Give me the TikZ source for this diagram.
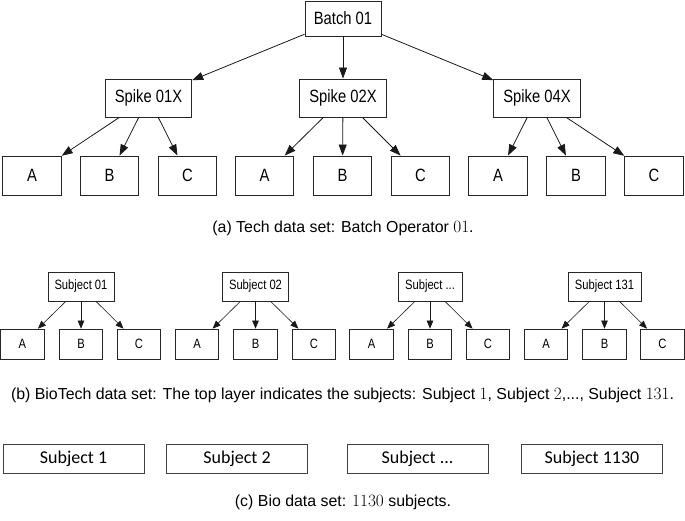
\documentclass[tikz,border=0pt]{standalone}
\usepackage[no-math]{fontspec}
\setmainfont{Liberation Sans}
\newfontfamily\nodefont[FakeStretch=0.83]{Liberation Sans}
\newfontfamily\carlitofont{Carlito}
\usetikzlibrary{arrows.meta}

\begin{document}
\begin{tikzpicture}[x=1pt,y=-1pt,
  treebox/.style={draw=black!85,line width=0.9pt,inner sep=0pt,font=\nodefont\fontsize{17.8}{20}\selectfont},
  smallbox/.style={draw=black!85,line width=0.7pt,inner sep=0pt,font=\nodefont\fontsize{13.5}{16}\selectfont},
  flatbox/.style={draw=black!75,line width=0.9pt,inner sep=0pt,minimum width=141pt,minimum height=29pt,font=\carlitofont\fontsize{18}{21}\selectfont},
  treeedge/.style={-{Triangle[length=11pt,width=8pt]},line width=0.8pt,draw=black!90},
  smalledge/.style={-{Triangle[length=8pt,width=6.5pt]},line width=0.6pt,draw=black!90},
  caption/.style={inner sep=0pt,font=\fontsize{15.9}{18}\selectfont}]
\useasboundingbox (0,0) rectangle (685,521);
% (a) batch tree
\node[treebox,minimum width=76pt,minimum height=35pt] (batch-0) at (343,18.5) {Batch 01};
\node[treebox,minimum width=86.5pt,minimum height=38pt] (spike-0-0) at (148.5,98) {Spike 01X};
\node[treebox,minimum width=86.5pt,minimum height=38pt] (spike-0-1) at (343,98) {Spike 02X};
\node[treebox,minimum width=86.5pt,minimum height=38pt] (spike-0-2) at (537,98) {Spike 04X};
\node[treebox,minimum width=58.5pt,minimum height=39pt] (leaf-0-0-0) at (32,175.5) {A};
\node[treebox,minimum width=58.5pt,minimum height=39pt] (leaf-0-0-1) at (109.5,175.5) {B};
\node[treebox,minimum width=58.5pt,minimum height=39pt] (leaf-0-0-2) at (187.5,175.5) {C};
\node[treebox,minimum width=58.5pt,minimum height=39pt] (leaf-0-1-0) at (264.5,175.5) {A};
\node[treebox,minimum width=58.5pt,minimum height=39pt] (leaf-0-1-1) at (342.5,175.5) {B};
\node[treebox,minimum width=58.5pt,minimum height=39pt] (leaf-0-1-2) at (420.5,175.5) {C};
\node[treebox,minimum width=58.5pt,minimum height=39pt] (leaf-0-2-0) at (498,175.5) {A};
\node[treebox,minimum width=58.5pt,minimum height=39pt] (leaf-0-2-1) at (576,175.5) {B};
\node[treebox,minimum width=58.5pt,minimum height=39pt] (leaf-0-2-2) at (654,175.5) {C};
\draw[treeedge] (batch-0) -- (spike-0-0);
\draw[treeedge] (batch-0) -- (spike-0-1);
\draw[treeedge] (batch-0) -- (spike-0-2);
\draw[treeedge] (spike-0-0) -- (leaf-0-0-0);
\draw[treeedge] (spike-0-0) -- (leaf-0-0-1);
\draw[treeedge] (spike-0-0) -- (leaf-0-0-2);
\draw[treeedge] (spike-0-1) -- (leaf-0-1-0);
\draw[treeedge] (spike-0-1) -- (leaf-0-1-1);
\draw[treeedge] (spike-0-1) -- (leaf-0-1-2);
\draw[treeedge] (spike-0-2) -- (leaf-0-2-0);
\draw[treeedge] (spike-0-2) -- (leaf-0-2-1);
\draw[treeedge] (spike-0-2) -- (leaf-0-2-2);
\node[caption] (caption-0) at (343,228) {(a) Tech data set: Batch Operator $01$.};
% (b) subject trees
\node[smallbox,minimum width=66pt,minimum height=29pt] (subject-1-0) at (81,286.5) {Subject 01};
\node[smallbox,minimum width=66pt,minimum height=29pt] (subject-1-1) at (255.5,286.5) {Subject 02};
\node[smallbox,minimum width=64pt,minimum height=29pt] (subject-1-2) at (430,286.5) {Subject ...};
\node[smallbox,minimum width=73pt,minimum height=29pt] (subject-1-3) at (604.5,286.5) {Subject 131};
\node[smallbox,minimum width=43.5pt,minimum height=30pt] (leaf-1-0-0) at (22.3,344) {A};
\node[smallbox,minimum width=43.5pt,minimum height=30pt] (leaf-1-0-1) at (81,344) {B};
\node[smallbox,minimum width=43.5pt,minimum height=30pt] (leaf-1-0-2) at (139,344) {C};
\node[smallbox,minimum width=43.5pt,minimum height=30pt] (leaf-1-1-0) at (197,344) {A};
\node[smallbox,minimum width=43.5pt,minimum height=30pt] (leaf-1-1-1) at (255.5,344) {B};
\node[smallbox,minimum width=43.5pt,minimum height=30pt] (leaf-1-1-2) at (314,344) {C};
\node[smallbox,minimum width=43.5pt,minimum height=30pt] (leaf-1-2-0) at (371.5,344) {A};
\node[smallbox,minimum width=43.5pt,minimum height=30pt] (leaf-1-2-1) at (430,344) {B};
\node[smallbox,minimum width=43.5pt,minimum height=30pt] (leaf-1-2-2) at (488,344) {C};
\node[smallbox,minimum width=43.5pt,minimum height=30pt] (leaf-1-3-0) at (546,344) {A};
\node[smallbox,minimum width=43.5pt,minimum height=30pt] (leaf-1-3-1) at (604.5,344) {B};
\node[smallbox,minimum width=43.5pt,minimum height=30pt] (leaf-1-3-2) at (662.5,344) {C};
\draw[smalledge] (subject-1-0) -- (leaf-1-0-0);
\draw[smalledge] (subject-1-0) -- (leaf-1-0-1);
\draw[smalledge] (subject-1-0) -- (leaf-1-0-2);
\draw[smalledge] (subject-1-1) -- (leaf-1-1-0);
\draw[smalledge] (subject-1-1) -- (leaf-1-1-1);
\draw[smalledge] (subject-1-1) -- (leaf-1-1-2);
\draw[smalledge] (subject-1-2) -- (leaf-1-2-0);
\draw[smalledge] (subject-1-2) -- (leaf-1-2-1);
\draw[smalledge] (subject-1-2) -- (leaf-1-2-2);
\draw[smalledge] (subject-1-3) -- (leaf-1-3-0);
\draw[smalledge] (subject-1-3) -- (leaf-1-3-1);
\draw[smalledge] (subject-1-3) -- (leaf-1-3-2);
\node[caption] (caption-1) at (342.5,395) {(b) BioTech data set: The top layer indicates the subjects: Subject $1$, Subject $2$,..., Subject $131$.};
% (c) flat subjects
\node[flatbox] (subject-2-0) at (73.5,458.5) {Subject 1};
\node[flatbox] (subject-2-1) at (237,458.5) {Subject 2};
\node[flatbox] (subject-2-2) at (417.5,458.5) {Subject ...};
\node[flatbox] (subject-2-3) at (592,458.5) {Subject 1130};
\node[caption] (caption-2) at (343,502) {(c) Bio data set: $1130$ subjects.};
\end{tikzpicture}
\end{document}
